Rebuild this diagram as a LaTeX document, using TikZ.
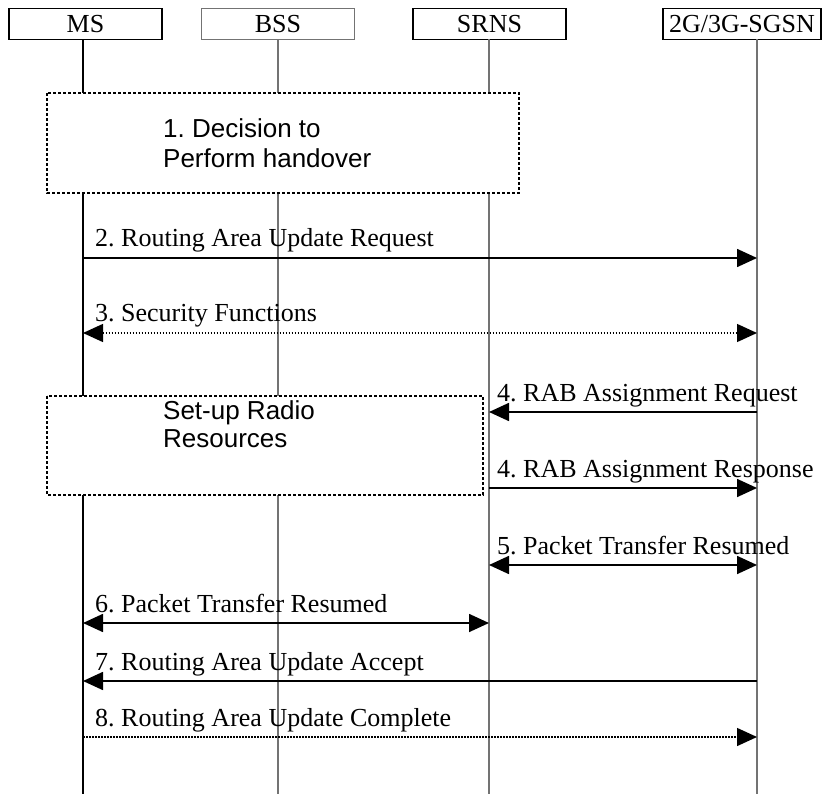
\documentclass[tikz,border=0pt]{standalone}
\usepackage{fontspec}
\setmainfont{Liberation Serif}
\setsansfont{Liberation Sans}
\usetikzlibrary{arrows.meta}
\frenchspacing
\begin{document}
\begin{tikzpicture}[x=1pt,y=-1pt,
  ent/.style={draw, line width=1.6pt, minimum height=31pt, minimum width=153pt, inner sep=0pt, font=\fontsize{26}{30}\selectfont},
  entg/.style={ent, draw=black!55, line width=1.1pt},
  lifeb/.style={line width=1.6pt},
  lifeg/.style={line width=1.1pt, draw=black!55},
  dbox/.style={draw, fill=white, line width=2pt, dash pattern=on 3pt off 2pt},
  btxt/.style={font=\sffamily\fontsize{26}{30}\selectfont, align=left, anchor=base west, inner sep=0pt},
  lbl/.style={font=\fontsize{26}{30}\selectfont, anchor=base west, inner sep=0pt},
  msg/.style={line width=1.7pt, -{Triangle[length=20pt,width=18pt]}},
  msgb/.style={line width=1.7pt, {Triangle[length=20pt,width=18pt]}-{Triangle[length=20pt,width=18pt]}},
  msgd/.style={msg, line width=1.4pt, dash pattern=on 1.5pt off 1.5pt},
  msgdb/.style={msgb, line width=1.4pt, dash pattern=on 1.5pt off 1.5pt}
]
\useasboundingbox (0,0) rectangle (830,794);
% entities
\node[ent] (ms) at (85.5,24) {MS};
\node[entg] (bss) at (278,24) {BSS};
\node[ent] (srns) at (489.5,24) {SRNS};
\node[ent, minimum width=158pt] (sgsn) at (742,24) {2G/3G-SGSN};
% lifelines
\coordinate (msT) at (83,39.5);   \coordinate (msB) at (83,794);
\coordinate (bssT) at (278,39.5); \coordinate (bssB) at (278,794);
\coordinate (srT) at (489,39.5);  \coordinate (srB) at (489,794);
\coordinate (sgT) at (757,39.5);  \coordinate (sgB) at (757,794);
\draw[lifeb] (msT) -- (msB);
\draw[lifeg] (bssT) -- (bssB);
\draw[lifeg] (srT) -- (srB);
\draw[lifeg] (sgT) -- (sgB);
% boxes
\draw[dbox] (47,93) rectangle (519,193);
\node[btxt] (b1) at (163,168) {1. Decision to\\Perform handover};
\draw[dbox] (47,396) rectangle (483,495);
\node[btxt, font=\sffamily\fontsize{26}{28}\selectfont] (b2) at (163,447) {Set-up Radio\\Resources};
% messages
\coordinate (m2a) at (83,258);  \coordinate (m2b) at (757,258);
\draw[msg] (m2a) -- (m2b);
\node[lbl] (l2) at (95,247) {2. Routing Area Update Request};
\coordinate (m3a) at (83,333);  \coordinate (m3b) at (757,333);
\draw[msgdb] (m3a) -- (m3b);
\node[lbl] (l3) at (95,322) {3. Security Functions};
\coordinate (m4a) at (757,412); \coordinate (m4b) at (489,412);
\draw[msg] (m4a) -- (m4b);
\node[lbl] (l4) at (497,401) {4. RAB Assignment Request};
\coordinate (m4c) at (489,488); \coordinate (m4d) at (757,488);
\draw[msg] (m4c) -- (m4d);
\node[lbl] (l4r) at (497,477) {4. RAB Assignment Response};
\coordinate (m5a) at (489,565); \coordinate (m5b) at (757,565);
\draw[msgb] (m5a) -- (m5b);
\node[lbl] (l5) at (497,554) {5. Packet Transfer Resumed};
\coordinate (m6a) at (83,623);  \coordinate (m6b) at (489,623);
\draw[msgb] (m6a) -- (m6b);
\node[lbl] (l6) at (95,612) {6. Packet Transfer Resumed};
\coordinate (m7a) at (757,681); \coordinate (m7b) at (83,681);
\draw[msg] (m7a) -- (m7b);
\node[lbl] (l7) at (95,670) {7. Routing Area Update Accept};
\coordinate (m8a) at (83,737);  \coordinate (m8b) at (757,737);
\draw[msgd] (m8a) -- (m8b);
\node[lbl] (l8) at (95,726) {8. Routing Area Update Complete};
\end{tikzpicture}
\end{document}
